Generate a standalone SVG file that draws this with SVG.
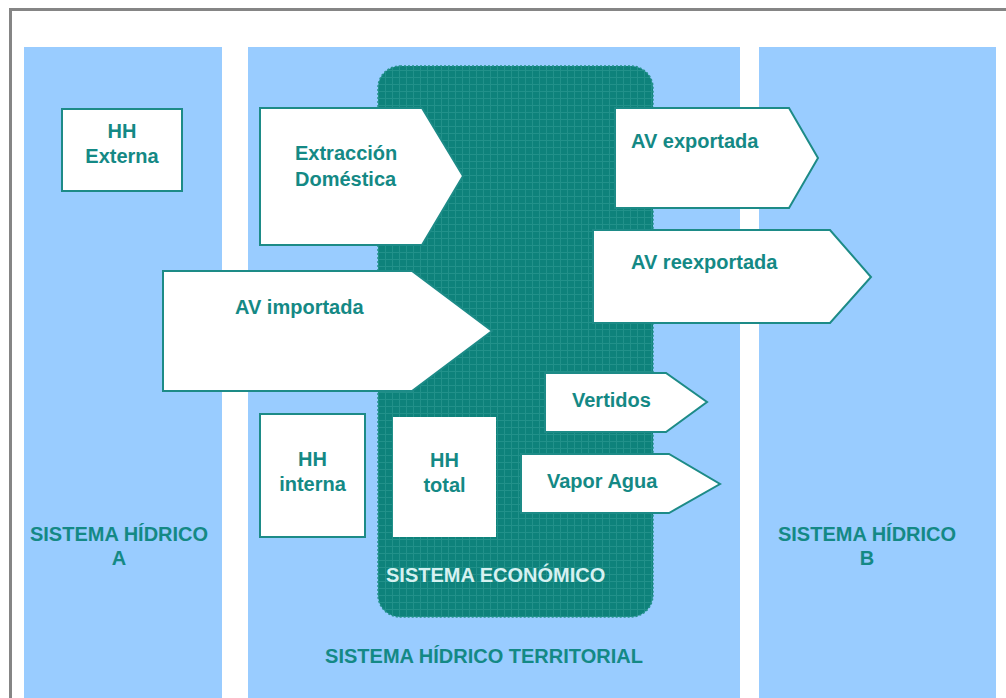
<svg xmlns="http://www.w3.org/2000/svg" width="1006" height="698" viewBox="0 0 1006 698">
  <defs>
    <pattern id="grid" width="7" height="7" patternUnits="userSpaceOnUse">
      <rect width="7" height="7" fill="#0e827b"/>
      <path d="M0 0.5H7M0.5 0V7" stroke="#22918a" stroke-width="1"/>
    </pattern>
    <style>
      .panel { fill: #99ccff; }
      .shape { fill: #ffffff; stroke: #1d8b87; stroke-width: 2; }
      .lbl { font-family: "Liberation Sans", Arial, sans-serif; font-weight: bold; font-size: 20px; fill: #148985; }
      .mid { text-anchor: middle; }
      .econ { fill: #d6f1f1; }
    </style>
  </defs>
  <rect width="1006" height="698" fill="#ffffff"/>
  <rect x="10.5" y="9.5" width="1100" height="800" fill="none" stroke="#858585" stroke-width="3"/>

  <g id="sistema-hidrico-a">
    <rect class="panel" x="24" y="47" width="198" height="660"/>
    <text class="lbl mid" x="119" y="541">SISTEMA HÍDRICO</text>
    <text class="lbl mid" x="119" y="565">A</text>
  </g>
  <g id="sistema-hidrico-territorial">
    <rect class="panel" x="248" y="47" width="492" height="660"/>
    <text class="lbl mid" x="484" y="663">SISTEMA HÍDRICO TERRITORIAL</text>
  </g>
  <g id="sistema-hidrico-b">
    <rect class="panel" x="759" y="47" width="237" height="660"/>
    <text class="lbl mid" x="867" y="541">SISTEMA HÍDRICO</text>
    <text class="lbl mid" x="867" y="565">B</text>
  </g>

  <g id="sistema-economico">
    <rect x="378" y="66" width="275" height="551" rx="22" ry="22" fill="url(#grid)" stroke="#22918a" stroke-width="1.5" stroke-dasharray="2 2"/>
    <text class="lbl econ" x="386" y="582">SISTEMA ECONÓMICO</text>
  </g>

  <g id="hh-externa">
    <rect class="shape" x="62" y="109" width="120" height="82"/>
    <text class="lbl mid" x="122" y="138">HH</text>
    <text class="lbl mid" x="122" y="163">Externa</text>
  </g>

  <g id="extraccion-domestica">
    <polygon class="shape" points="260,108 422,108 463,176 422,245 260,245"/>
    <text class="lbl" x="295" y="160">Extracción</text>
    <text class="lbl" x="295" y="186">Doméstica</text>
  </g>

  <g id="av-importada">
    <polygon class="shape" points="163,271 412,271 492,331 412,391 163,391"/>
    <text class="lbl" x="235" y="314">AV importada</text>
  </g>

  <g id="av-exportada">
    <polygon class="shape" points="615,108 789,108 818,158 789,208 615,208"/>
    <text class="lbl" x="631" y="148">AV exportada</text>
  </g>

  <g id="av-reexportada">
    <polygon class="shape" points="593,230 830,230 871,277 830,323 593,323"/>
    <text class="lbl" x="631" y="269">AV reexportada</text>
  </g>

  <g id="vertidos">
    <polygon class="shape" points="545,373 666,373 707,402 666,432 545,432"/>
    <text class="lbl" x="572" y="407">Vertidos</text>
  </g>

  <g id="vapor-agua">
    <polygon class="shape" points="521,454 669,454 720,484 669,513 521,513"/>
    <text class="lbl" x="547" y="488">Vapor Agua</text>
  </g>

  <g id="hh-interna">
    <rect class="shape" x="260" y="414" width="105" height="123"/>
    <text class="lbl mid" x="312.5" y="466">HH</text>
    <text class="lbl mid" x="312.5" y="491">interna</text>
  </g>

  <g id="hh-total">
    <rect x="393" y="417" width="103" height="120" fill="#ffffff"/>
    <text class="lbl mid" x="444.5" y="467">HH</text>
    <text class="lbl mid" x="444.5" y="492">total</text>
  </g>

  <g id="connectors"></g>
</svg>
